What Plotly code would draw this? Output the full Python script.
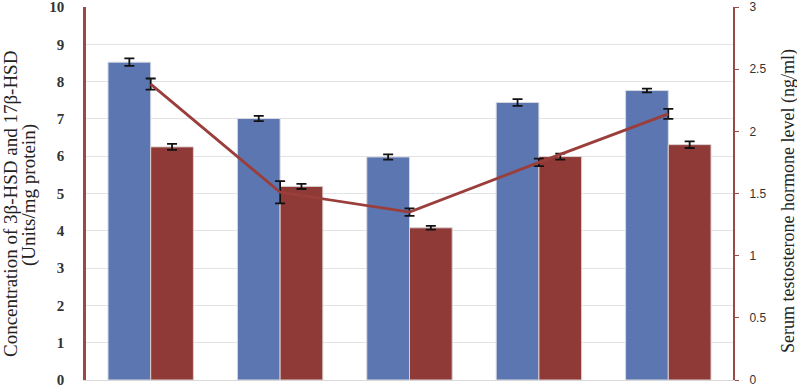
import plotly.graph_objects as go

groups = ["G1", "G2", "G3", "G4", "G5"]
hsd3 = [8.52, 7.01, 5.98, 7.44, 7.76]
hsd3_err = [0.10, 0.07, 0.07, 0.09, 0.05]
hsd17 = [6.25, 5.19, 4.08, 5.99, 6.31]
hsd17_err = [0.08, 0.07, 0.05, 0.08, 0.09]
testo = [2.38, 1.51, 1.35, 1.75, 2.14]
testo_err = [0.045, 0.09, 0.03, 0.03, 0.04]

left_ticks = [0, 1, 2, 3, 4, 5, 6, 7, 8, 9, 10]
right_ticks = [0, 0.5, 1, 1.5, 2, 2.5, 3]
right_labels = ["0", "0.5", "1", "1.5", "2", "2.5", "3"]
left_title = ["Concentration of 3β-HSD and 17β-HSD", "(Units/mg protein)"]
right_title = "Serum testosterone hormone level (ng/ml)"

W, H = 797, 388
ML, MR, MT, MB = 86, 64, 7, 8
PW = W - ML - MR
PH = H - MT - MB


def px_to_paper_x(px):
    return (px - ML) / PW


def px_to_paper_y(py):
    return (H - MB - py) / PH


fig = go.Figure()
fig.add_trace(go.Bar(
    x=groups, y=hsd3, name="3β-HSD",
    marker=dict(color="#5B76B0", line=dict(color="#D8D8E0", width=1)),
    error_y=dict(type="data", array=hsd3_err, color="#111111", thickness=1.8, width=5),
))
fig.add_trace(go.Bar(
    x=groups, y=hsd17, name="17β-HSD",
    marker=dict(color="#8F3A36", line=dict(color="#D8D0D0", width=1)),
    error_y=dict(type="data", array=hsd17_err, color="#111111", thickness=1.8, width=5),
))
fig.add_trace(go.Scatter(
    x=groups, y=testo, yaxis="y2", mode="lines", name="Testosterone",
    line=dict(color="#9A3E3B", width=2.8),
    error_y=dict(type="data", array=testo_err, color="#111111", thickness=1.8, width=5),
))

title_font = dict(family="Liberation Serif", size=19, color="#222222")
fig.add_annotation(text=left_title[0], textangle=-90, xref="paper", yref="paper",
                   x=px_to_paper_x(10), y=px_to_paper_y(204), showarrow=False, font=title_font,
                   xanchor="center", yanchor="middle")
fig.add_annotation(text=left_title[1], textangle=-90, xref="paper", yref="paper",
                   x=px_to_paper_x(29), y=px_to_paper_y(195), showarrow=False, font=title_font,
                   xanchor="center", yanchor="middle")
fig.add_annotation(text=right_title, textangle=-90, xref="paper", yref="paper",
                   x=px_to_paper_x(788), y=px_to_paper_y(201), showarrow=False,
                   font=dict(family="Liberation Serif", size=18, color="#222222"),
                   xanchor="center", yanchor="middle")

fig.update_layout(
    width=W, height=H,
    margin=dict(l=ML, r=MR, t=MT, b=MB),
    paper_bgcolor="white", plot_bgcolor="white",
    barmode="group", bargap=0.34, bargroupgap=0,
    showlegend=False,
    xaxis=dict(showticklabels=False, ticks="", showgrid=False, automargin=False,
               showline=True, linecolor="#D9D9D9", linewidth=1, zeroline=False),
    yaxis=dict(range=[0, 10], tickvals=left_ticks, ticktext=[str(t) for t in left_ticks],
               showgrid=True, gridcolor="#E3E3E3", gridwidth=1, automargin=False,
               showline=True, linecolor="#9A4A46", linewidth=2.5, ticks="",
               zeroline=False, ticklabeloverflow="allow",
               tickfont=dict(family="Liberation Serif", size=15, color="#333333", weight="bold"),
               ticklabelstandoff=16),
    yaxis2=dict(range=[0, 3], overlaying="y", side="right", automargin=False,
                tickvals=right_ticks, ticktext=right_labels,
                showgrid=False, zeroline=False, ticklabeloverflow="allow",
                showline=True, linecolor="#9A4A46", linewidth=2,
                ticks="outside", ticklen=4, tickcolor="#9A4A46",
                tickfont=dict(family="Liberation Sans", size=12, color="#333333"),
                ticklabelstandoff=8),
)

fig.write_html("out.html", config={"displayModeBar": False},
               post_script="document.body.style.margin='0';")
